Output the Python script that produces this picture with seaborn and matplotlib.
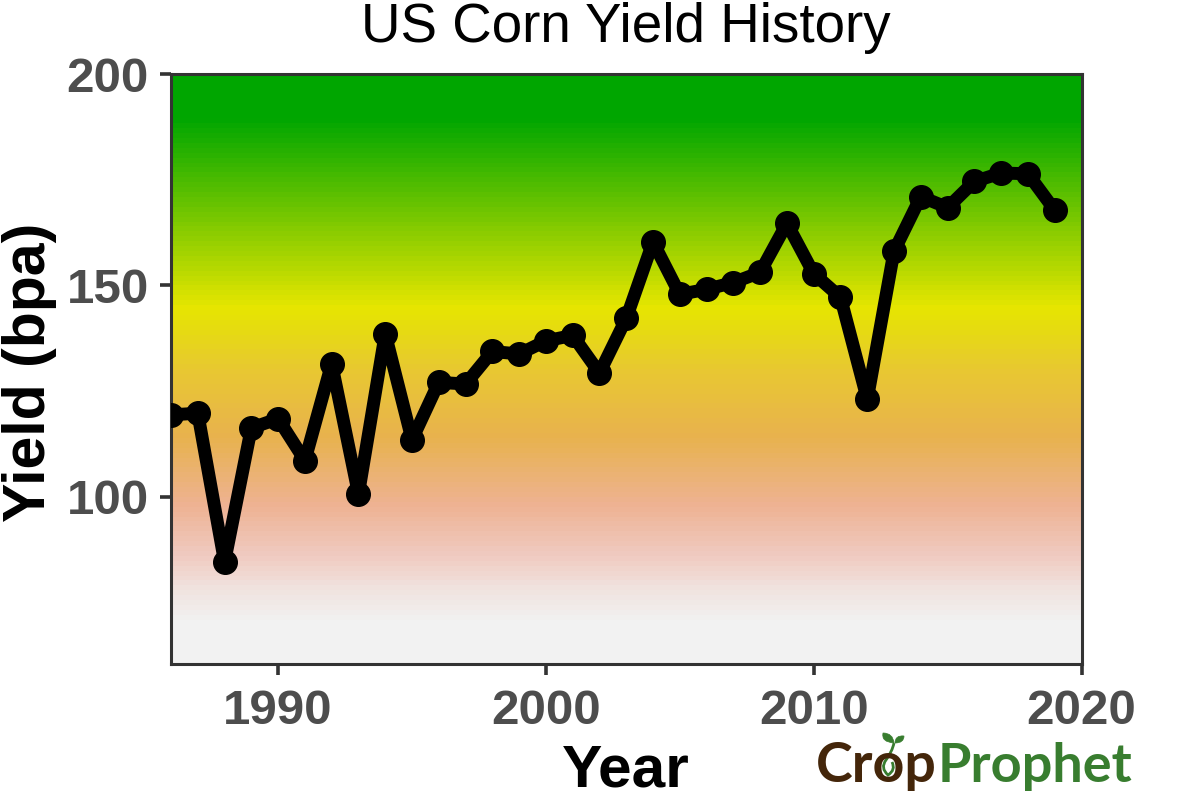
import numpy as np
import matplotlib.pyplot as plt
import seaborn as sns
import pandas as pd
from matplotlib.colors import LinearSegmentedColormap
from matplotlib.patches import PathPatch
from matplotlib.path import Path
from matplotlib.transforms import IdentityTransform

years = list(range(1986, 2020))
yields = [119.4, 119.8, 84.6, 116.3, 118.5, 108.6, 131.5, 100.7, 138.6, 113.5,
          127.1, 126.7, 134.4, 133.8, 136.9, 138.2, 129.3, 142.2, 160.3, 147.9,
          149.1, 150.7, 153.1, 164.7, 152.8, 147.2, 123.1, 158.1, 171.0, 168.4,
          174.6, 176.6, 176.4, 167.8]
x_ticks = [1990, 2000, 2010, 2020]
y_ticks = [100, 150, 200]

# gradient stops, value on the y axis -> colour
grad_vals = [60.5, 70, 78, 86, 98, 114, 130, 145, 190, 200]
grad_cols = ["#F2F2F2", "#F2F2F2", "#F0E2DE", "#F0CAC0", "#EEB292", "#E8B24E",
             "#E8C832", "#E6E600", "#00A600", "#00A600"]

df = pd.DataFrame({"Year": years, "Yield": yields})

sns.set_theme(style="white")
plt.rcParams['font.family'] = ['Liberation Sans', 'DejaVu Sans']

fig = plt.figure(figsize=(12, 8), dpi=100)
ax = fig.add_axes([171/1200, 1-664/800, (1081.5-171)/1200, (664-74)/800])

ymin, ymax = 60.5, 200
pos = [(v-ymin)/(ymax-ymin) for v in grad_vals]
cmap = LinearSegmentedColormap.from_list("terrain_like", list(zip(pos, grad_cols)), N=512)
grad = np.linspace(0, 1, 120).reshape(-1, 1)
ax.imshow(grad, extent=[1986, 2020, ymin, ymax], origin="lower", aspect="auto", cmap=cmap, zorder=0)

sns.lineplot(data=df, x="Year", y="Yield", color="black", linewidth=9.3, marker="o",
             markersize=17, markeredgecolor="black", markeredgewidth=1, errorbar=None, ax=ax, zorder=3)

ax.set_xlim(1986, 2020)
ax.set_ylim(ymin, ymax)
ax.set_xticks(x_ticks)
ax.set_yticks(y_ticks)
ax.tick_params(axis="both", length=8, width=2.6, color="#333333", labelcolor="#4D4D4D", bottom=True, left=True)
ax.tick_params(axis="x", pad=10)
ax.tick_params(axis="y", pad=8)
for lab in ax.get_xticklabels() + ax.get_yticklabels():
    lab.set_fontsize(35.5)
    lab.set_fontweight("bold")
for s in ax.spines.values():
    s.set_color("#333333")
    s.set_linewidth(2.2)

ax.set_xlabel("")
ax.set_ylabel("")
fig.text(626/1200, 1-771/800, "Year", fontsize=43.5, fontweight="bold", color="black", ha="center", va="center")
fig.text(30/1200, 1-372/800, "Yield (bpa)", fontsize=42.5, fontweight="bold", color="black", ha="center", va="center", rotation=90)
fig.text(626/1200, 1-28/800, "US Corn Yield History", fontsize=39.4, color="black", ha="center", va="center")

# logo
logo_brown = "#44260A"
logo_green = "#387D2F"
fig.text(816/1200, 1-782/800, "Crop", fontsize=40, color=logo_brown, fontweight="bold", family=["Lato", "DejaVu Sans"], ha="left", va="baseline")
fig.text(938/1200, 1-782/800, "Prophet", fontsize=39, color=logo_green, fontweight="bold", family=["Lato", "DejaVu Sans"], ha="left", va="baseline")


def px_patch(verts, codes, **kw):
    pts = [(x, 800-y) for x, y in verts]
    fig.add_artist(PathPatch(Path(pts, codes), transform=IdentityTransform(), **kw))


C3 = Path.CURVE3
# stem and swirl through the o
px_patch([(894, 743), (892, 752), (886, 760), (880, 768), (888, 775), (896, 770), (892, 762)],
         [Path.MOVETO, C3, C3, C3, C3, C3, C3], fc="none", ec=logo_green, lw=2)
# leaves
px_patch([(894, 743), (881, 742), (883, 733), (893, 733), (894, 743)],
         [Path.MOVETO, C3, C3, C3, C3], fc=logo_green, ec=logo_green, lw=0.5)
px_patch([(895, 743), (895, 735), (904, 736), (904, 743), (895, 743)],
         [Path.MOVETO, C3, C3, C3, C3], fc=logo_green, ec=logo_green, lw=0.5)

plt.savefig("out.png", dpi=100)
